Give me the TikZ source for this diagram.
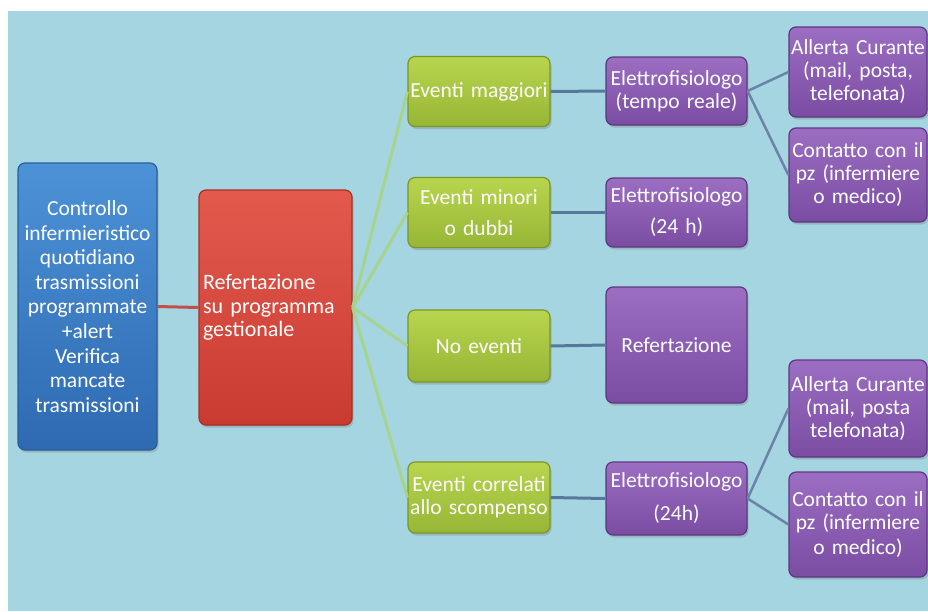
\documentclass[tikz,border=0pt]{standalone}
\usepackage{fontspec}
\setmainfont{Carlito}
\usetikzlibrary{shadows}
\definecolor{bgcol}{HTML}{A4D5E1}
\definecolor{bluetop}{HTML}{4C92D6}
\definecolor{bluebot}{HTML}{2E6AB2}
\definecolor{blueline}{HTML}{2A5E9C}
\definecolor{redtop}{HTML}{E35A4D}
\definecolor{redbot}{HTML}{C93B31}
\definecolor{redline}{HTML}{A53128}
\definecolor{greentop}{HTML}{B8D54E}
\definecolor{greenbot}{HTML}{97B636}
\definecolor{greenline}{HTML}{7C9629}
\definecolor{purptop}{HTML}{9C6EC2}
\definecolor{purpbot}{HTML}{7A4DA3}
\definecolor{purpline}{HTML}{5C3880}
\definecolor{linkred}{HTML}{C0504D}
\definecolor{linkgreen}{HTML}{A7D48C}
\definecolor{linkslate}{HTML}{56789B}
\definecolor{linkpurp}{HTML}{6B83A8}
\begin{document}
\begin{tikzpicture}[x=1pt,y=-1pt,
  box/.style={rounded corners=7pt, align=center, inner sep=0pt, text=white,
    font=\fontsize{21.5}{23}\selectfont, line width=1.2pt,
    drop shadow={shadow xshift=1.5pt, shadow yshift=-2.5pt, opacity=0.35}},
  bluebox/.style={box, top color=bluetop, bottom color=bluebot, draw=blueline},
  redbox/.style={box, top color=redtop, bottom color=redbot, draw=redline},
  greenbox/.style={box, top color=greentop, bottom color=greenbot, draw=greenline,
    text width=142pt, minimum height=70pt},
  purpbox/.style={box, top color=purptop, bottom color=purpbot, draw=purpline},
  midbox/.style={purpbox, text width=141pt},
  rightbox/.style={purpbox, text width=138pt},
  redlink/.style={draw=linkred, line width=3pt},
  greenlink/.style={draw=linkgreen, line width=3pt},
  slatelink/.style={draw=linkslate, line width=3pt},
  purplink/.style={draw=linkpurp, line width=2.5pt}
]
\useasboundingbox (0,0) rectangle (928,611);
\fill[white] (0,0) rectangle (928,611);
\fill[bgcol] (8,11) rectangle (928,611);

% left column
\node[bluebox, text width=139pt, minimum height=287pt, font=\fontsize{21.5}{24.6}\selectfont] (ctrl) at (87.5,306.5)
  {Controllo\\infermieristico\\quotidiano\\trasmissioni\\programmate\\+alert\\Verifica\\mancate\\trasmissioni};
\node[redbox, text width=145pt, inner xsep=4pt, minimum height=235pt, align=left, font=\fontsize{22}{23.5}\selectfont] (ref) at (275.5,307.5)
  {Refertazione\\su programma\\gestionale};

% green column
\node[greenbox] (g1) at (479,91.5) {Eventi maggiori};
\node[greenbox] (g2) at (479,212.5) {Eventi minori\\[8pt]o dubbi};
\node[greenbox, minimum height=72pt] (g3) at (479,346) {No eventi};
\node[greenbox, minimum height=71pt] (g4) at (479,497.5) {Eventi correlati\\allo scompenso};

% middle purple column
\node[midbox, minimum height=68pt] (e1) at (676.5,91) {Elettrofisiologo\\(tempo reale)};
\node[midbox, minimum height=69pt] (e2) at (676.5,212.5) {Elettrofisiologo\\[8pt](24 h)};
\node[midbox, minimum height=116pt] (e3) at (676.5,345) {Refertazione};
\node[midbox, minimum height=73pt] (e4) at (676.5,498.5) {Elettrofisiologo\\[10pt](24h)};

% right purple column
\node[rightbox, minimum height=90pt] (a1) at (858,72) {Allerta Curante\\(mail, posta,\\telefonata)};
\node[rightbox, minimum height=94pt] (c1) at (858,175) {Contatto con il\\pz (infermiere\\o medico)};
\node[rightbox, minimum height=97pt] (a2) at (858,408.5) {Allerta Curante\\(mail, posta\\telefonata)};
\node[rightbox, minimum height=105pt] (c2) at (858,524.5) {Contatto con il\\pz (infermiere\\[2pt]o medico)};

% connectors
\draw[redlink] (ctrl.east) -- (ref.west);
\draw[greenlink] (ref.east) -- (g1.west);
\draw[greenlink] (ref.east) -- (g2.west);
\draw[greenlink] (ref.east) -- (g3.west);
\draw[greenlink] (ref.east) -- (g4.west);
\draw[slatelink] (g1.east) -- (e1.west);
\draw[slatelink] (g2.east) -- (e2.west);
\draw[slatelink] (g3.east) -- (e3.west);
\draw[slatelink] (g4.east) -- (e4.west);
\draw[purplink] (e1.east) -- (a1.west);
\draw[purplink] (e1.east) -- (c1.west);
\draw[purplink] (e4.east) -- (a2.west);
\draw[purplink] (e4.east) -- (c2.west);
\end{tikzpicture}
\end{document}
